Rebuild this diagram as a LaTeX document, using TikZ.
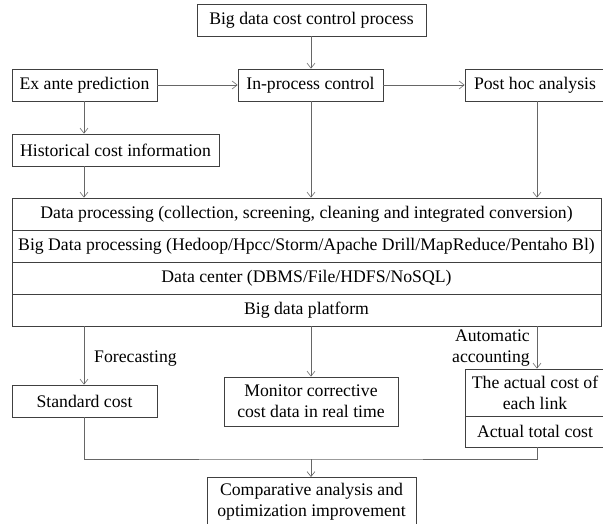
\documentclass[tikz,border=0pt]{standalone}
\usepackage{fontspec}
\setmainfont{Liberation Serif}
\usetikzlibrary{arrows.meta,positioning,calc}
\begin{document}
\begin{tikzpicture}[x=1pt,y=-1pt,
  box/.style={draw=black!75,line width=0.8pt,inner sep=0pt,font=\fontsize{17.7}{21}\selectfont,align=center},
  conn/.style={draw=black!60,line width=0.8pt},
  arr/.style={conn,-{Straight Barb[length=5pt,width=8pt,line width=0.6pt]}},
  lbl/.style={font=\fontsize{17.7}{21}\selectfont,inner sep=0pt,align=left}]
\useasboundingbox (0,0) rectangle (603,523);
\fill[white] (0,0) rectangle (603,523);
% column x positions
\coordinate (cA) at (84,0);
\coordinate (cB) at (311,0);
\coordinate (cC) at (537,0);
% top row
\node[box,minimum width=229pt,minimum height=32pt] (top) at (311.5,20) {Big data cost control process};
\node[box,minimum width=145pt,minimum height=32pt] (ex) at (84.5,85) {Ex ante prediction};
\node[box,minimum width=145pt,minimum height=32pt] (inp) at (310.5,85) {In-process control};
\node[box,minimum width=140pt,minimum height=32pt] (post) at (535,85) {Post hoc analysis};
\node[box,minimum width=207pt,minimum height=32pt] (hist) at (115.5,150) {Historical cost information};
% stack
\node[box,minimum width=589pt,minimum height=32pt] (dp) at (306.5,214) {Data processing (collection, screening, cleaning and integrated conversion)};
\node[box,minimum width=589pt,minimum height=32pt,below=-0.8pt of dp] (bdp) {Big Data processing (Hedoop/Hpcc/Storm/Apache Drill/MapReduce/Pentaho Bl)};
\node[box,minimum width=589pt,minimum height=32pt,below=-0.8pt of bdp] (dc) {Data center (DBMS/File/HDFS/NoSQL)};
\node[box,minimum width=589pt,minimum height=32pt,below=-0.8pt of dc] (plat) {Big data platform};
% lower
\node[box,minimum width=145pt,minimum height=32pt] (std) at (84.5,401) {Standard cost};
\node[box,minimum width=174pt,minimum height=49pt] (mon) at (311,401.5) {Monitor corrective\\cost data in real time};
\node[box,minimum width=140pt,minimum height=47pt] (act) at (535,392.5) {The actual cost of\\each link};
\node[box,minimum width=140pt,minimum height=31pt,below=-0.8pt of act] (tot) {Actual total cost};
\node[box,minimum width=209pt,minimum height=48pt,anchor=north] (cmp) at (311.5,477) {Comparative analysis and\\optimization improvement};
% labels
\node[lbl,anchor=west] (fc) at (94,359) {Forecasting};
\node[lbl,anchor=east,align=right] (aa) at (530,348.5) {Automatic\\accounting};
% connectors
\draw[arr] (top.south -| cB) -- (inp.north -| cB);
\draw[arr] (ex.east) -- (inp.west);
\draw[arr] (inp.east) -- (post.west);
\draw[arr] (ex.south -| cA) -- (hist.north -| cA);
\draw[arr] (hist.south -| cA) -- (dp.north -| cA);
\draw[arr] (inp.south -| cB) -- (dp.north -| cB);
\draw[arr] (post.south -| cC) -- (dp.north -| cC);
\draw[arr] (plat.south -| cA) -- (std.north -| cA);
\draw[arr] (plat.south -| cB) -- (mon.north -| cB);
\draw[arr] (plat.south -| cC) -- (act.north -| cC);
\coordinate (jn) at (311,459);
\draw[conn] (std.south -| cA) |- (jn) -| (tot.south -| cC);
\draw[arr] (jn) -- (cmp.north -| jn);
\end{tikzpicture}
\end{document}
